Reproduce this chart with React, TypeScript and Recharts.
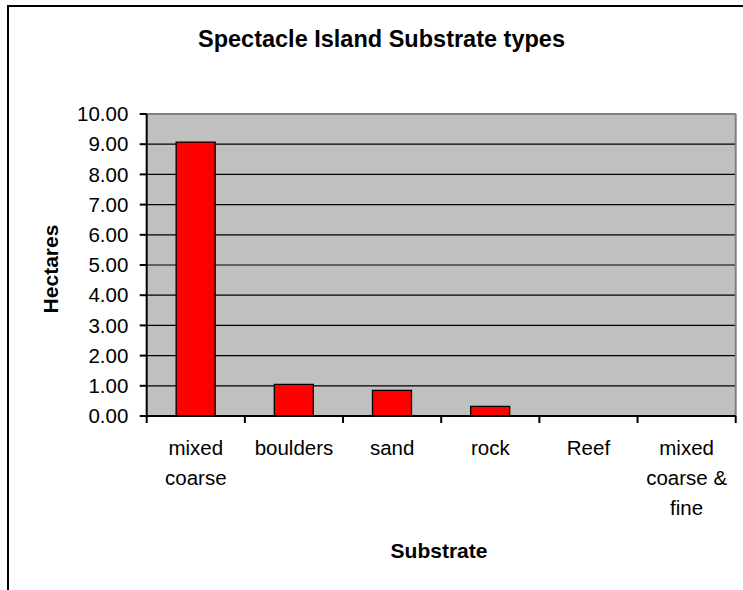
import { BarChart, Bar, XAxis, YAxis, CartesianGrid } from 'recharts';

const categories = ['mixed coarse', 'boulders', 'sand', 'rock', 'Reef', 'mixed coarse & fine'];
const categoryLines = [['mixed', 'coarse'], ['boulders'], ['sand'], ['rock'], ['Reef'], ['mixed', 'coarse &', 'fine']];
const hectares = [9.07, 1.05, 0.85, 0.32, 0, 0];
const yTicks = [0, 1, 2, 3, 4, 5, 6, 7, 8, 9, 10];

const data = categories.map((name, i) => ({ name, hectares: hectares[i] }));

const W = 743;
const H = 590;
const margin = { top: 114, right: 7.3, bottom: 114, left: 46.7 };
const Y_AXIS_W = 100;
const X_AXIS_H = 60;
const band = (W - margin.left - margin.right - Y_AXIS_W) / categories.length;
const FONT = '"Liberation Sans", Arial, Helvetica, sans-serif';

function XTick({ x, y, index }: any) {
  const lines = categoryLines[index] || [];
  const left = x - band / 2;
  return (
    <g>
      <line x1={left} x2={left} y1={y} y2={y + 7} stroke="#000" strokeWidth={2} />
      {index === categories.length - 1 && (
        <line x1={left + band} x2={left + band} y1={y} y2={y + 7} stroke="#000" strokeWidth={2} />
      )}
      <text x={x} y={y + 39} textAnchor="middle" fontSize={20.5} fontFamily={FONT} fill="#000">
        {lines.map((l: string, i: number) => (
          <tspan key={i} x={x} dy={i === 0 ? 0 : 30}>{l}</tspan>
        ))}
      </text>
    </g>
  );
}

export default function App() {
  return (
    <div style={{ position: 'absolute', left: 0, top: 0, width: W, height: H, overflow: 'hidden', background: '#fff', fontFamily: FONT }}>
      <div style={{ position: 'absolute', left: 7, top: 5, width: 760, height: 620, border: '2px solid #000' }} />
      <div style={{ position: 'absolute', left: 0, width: 763, top: 25, textAlign: 'center', fontSize: 23.5, fontWeight: 'bold', lineHeight: '28px' }}>
        Spectacle Island Substrate types
      </div>
      <div style={{ position: 'absolute', left: 339, width: 200, top: 538, textAlign: 'center', fontSize: 21, fontWeight: 'bold', lineHeight: '26px' }}>
        Substrate
      </div>
      <div style={{ position: 'absolute', left: 50.5, top: 269, width: 200, marginLeft: -100, marginTop: -13, textAlign: 'center', fontSize: 21, fontWeight: 'bold', lineHeight: '26px', transform: 'rotate(-90deg)' }}>
        Hectares
      </div>
      <div style={{ position: 'absolute', left: 0, top: 0 }}>
        <BarChart width={W} height={H} data={data} margin={margin} barCategoryGap="30%">
          <CartesianGrid fill="#c0c0c0" fillOpacity={1} stroke="#000" strokeWidth={1.2} vertical={false} />
          <CartesianGrid
            fill="none"
            stroke="#808080"
            strokeWidth={2}
            horizontalCoordinatesGenerator={({ offset }: any) => [offset ? offset.top : margin.top]}
            verticalCoordinatesGenerator={({ offset }: any) => [offset ? offset.left + offset.width : W - margin.right]}
          />
          <XAxis
            dataKey="name"
            height={X_AXIS_H}
            interval={0}
            tickLine={false}
            tickSize={0}
            tickMargin={0}
            axisLine={{ stroke: '#000', strokeWidth: 2 }}
            tick={<XTick />}
          />
          <YAxis
            width={Y_AXIS_W}
            domain={[0, 10]}
            ticks={yTicks}
            interval={0}
            tickFormatter={(v: number) => v.toFixed(2)}
            tickSize={7}
            tickMargin={11.4}
            axisLine={{ stroke: '#000', strokeWidth: 2 }}
            tickLine={{ stroke: '#000', strokeWidth: 2 }}
            tick={{ fill: '#000', fontSize: 20.5, fontFamily: FONT }}
          />
          <Bar dataKey="hectares" fill="#ff0000" stroke="#000" strokeWidth={1.3} isAnimationActive={false} />
        </BarChart>
      </div>
    </div>
  );
}
